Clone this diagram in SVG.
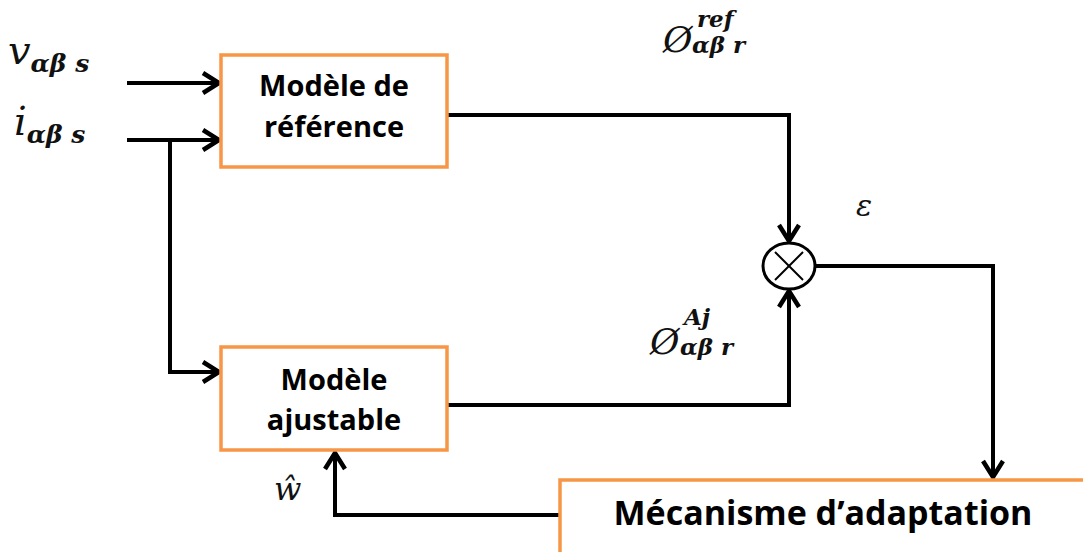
<svg xmlns="http://www.w3.org/2000/svg" width="1083" height="552" viewBox="0 0 1083 552">
<style>
.box{fill:#fff;stroke:#F79646;stroke-width:3.5}
.bt{font-family:"Open Sans","Liberation Sans",sans-serif;font-weight:bold;font-size:29px;fill:#000;text-anchor:middle}
.ln{fill:none;stroke:#000;stroke-width:4}
.m{font-family:"DejaVu Serif","Liberation Serif",serif;font-style:italic;fill:#111}
</style>
<defs>
<marker id="ar" viewBox="0 0 24 24" refX="21" refY="12" markerWidth="24" markerHeight="24" markerUnits="userSpaceOnUse" orient="auto">
<path d="M5,2 L21,12 L5,22" fill="none" stroke="#000" stroke-width="4.5"/>
</marker>
</defs>
<g id="connectors">
<line class="ln" x1="127" y1="83" x2="219" y2="83" marker-end="url(#ar)"/>
<line class="ln" x1="127" y1="140" x2="219" y2="140" marker-end="url(#ar)"/>
<polyline class="ln" points="170,140 170,372 219,372" marker-end="url(#ar)"/>
<polyline class="ln" points="447,115 789,115 789,241" marker-end="url(#ar)"/>
<polyline class="ln" points="447,405 789,405 789,291" marker-end="url(#ar)"/>
<polyline class="ln" points="815,266 993,266 993,477" marker-end="url(#ar)"/>
<polyline class="ln" points="560,515 335,515 335,453" marker-end="url(#ar)"/>
</g>
<g id="ref-model">
<rect class="box" x="221" y="55" width="226" height="112"/>
<text class="bt" x="334" y="96">Modèle de</text>
<text class="bt" x="334" y="137">référence</text>
</g>
<g id="adj-model">
<rect class="box" x="221" y="347" width="226" height="103"/>
<text class="bt" x="334" y="390">Modèle</text>
<text class="bt" x="334" y="430">ajustable</text>
</g>
<g id="mechanism">
<rect class="box" x="560" y="480" width="530" height="80"/>
<text class="bt" x="823" y="525" style="font-size:34px">Mécanisme d’adaptation</text>
</g>
<g id="sum">
<ellipse cx="789" cy="266" rx="26" ry="23" fill="#fff" stroke="#000" stroke-width="3"/>
<line x1="775" y1="252" x2="803" y2="280" stroke="#000" stroke-width="2"/>
<line x1="803" y1="252" x2="775" y2="280" stroke="#000" stroke-width="2"/>
</g>
<g id="labels">
<text class="m" x="8" y="64" font-size="40">v<tspan font-size="25" dy="8" font-weight="bold">αβ s</tspan></text>
<text class="m" x="14" y="135" font-size="40">i<tspan font-size="25" dy="8" font-weight="bold">αβ s</tspan></text>
<text class="m" x="663" y="52" font-size="36">Ø</text>
<text class="m" x="697" y="27" font-size="23" font-weight="bold">ref</text>
<text class="m" x="692" y="53" font-size="23" font-weight="bold">αβ r</text>
<text class="m" x="650" y="354" font-size="36">Ø</text>
<text class="m" x="684" y="325" font-size="23" font-weight="bold">Aj</text>
<text class="m" x="680" y="355" font-size="23" font-weight="bold">αβ r</text>
<text class="m" x="856" y="216" font-size="30">ε</text>
<text class="m" x="274" y="500" font-size="32">ŵ</text>
</g>
</svg>
